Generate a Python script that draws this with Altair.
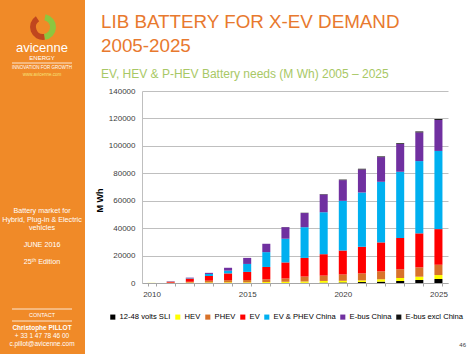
import altair as alt
import pandas as pd

years = list(range(2010, 2026))
series = ["12-48 volts SLI", "HEV", "PHEV", "EV", "EV & PHEV China", "E-bus China", "E-bus excl China"]
colors = ["#000000", "#FFFF00", "#D8722A", "#FF0000", "#00B0F0", "#7030A0", "#111111"]

sli = [0, 0, 0, 0, 0, 0, 0, 0, 100, 200, 400, 700, 1000, 1500, 2200, 2900]
hev = [100, 150, 300, 400, 500, 500, 700, 900, 1000, 1300, 1200, 1200, 1700, 2200, 2400, 2900]
phev = [0, 100, 600, 1300, 1600, 1700, 2000, 2400, 3600, 3900, 4600, 5100, 5800, 6300, 6800, 7500]
ev = [0, 700, 2300, 3400, 4900, 5900, 9000, 11700, 13600, 15600, 17500, 19400, 21100, 22800, 24800, 26000]
china = [0, 100, 300, 1500, 2000, 5800, 10800, 17300, 22400, 30600, 36200, 39600, 44200, 48400, 52700, 57000]
ebus_china = [0, 200, 400, 800, 2100, 4400, 6100, 8400, 10300, 12900, 15100, 16800, 18000, 20200, 20900, 22600]
ebus_excl = [0, 0, 0, 0, 0, 0, 0, 100, 200, 300, 400, 500, 500, 500, 700, 700]

values = [sli, hev, phev, ev, china, ebus_china, ebus_excl]
rows = []
for si, (name, vals) in enumerate(zip(series, values)):
    for y, v in zip(years, vals):
        rows.append({"year": y, "series": name, "value": v, "ord": si})
df = pd.DataFrame(rows)

OX, OY = 142, 91  # plot origin on the page
FONT = "Liberation Sans"

bars = alt.Chart(df).mark_bar().encode(
    x=alt.X("year:O", title=None,
            scale=alt.Scale(paddingInner=0.58, paddingOuter=0.29),
            axis=alt.Axis(labelExpr="datum.value % 5 == 0 ? datum.value : ''",
                          labelAngle=0, tickBand="extent", tickSize=3,
                          tickColor="#A6A6A6", domainColor="#A6A6A6",
                          labelFontSize=8, labelColor="#404040", labelFont=FONT,
                          labelPadding=4)),
    y=alt.Y("value:Q", stack="zero",
            scale=alt.Scale(domain=[0, 140000]),
            axis=alt.Axis(values=list(range(0, 140001, 20000)), format="d",
                          grid=True, gridColor="#BFBFBF", domainColor="#BFBFBF",
                          ticks=False, labelPadding=7, labelFontSize=8,
                          labelColor="#404040", labelFont=FONT,
                          title="M Wh", titleFontSize=9, titleFontWeight="bold",
                          titleColor="#000000", titleFont=FONT,
                          titleX=-38, titleY=109, titleAngle=270)),
    color=alt.Color("series:N", scale=alt.Scale(domain=series, range=colors),
                    legend=alt.Legend(title=None, orient="none", direction="horizontal",
                                      legendX=-33, legendY=222, symbolType="square",
                                      symbolSize=26, symbolStrokeWidth=0,
                                      labelFontSize=7.6, labelFont=FONT, labelColor="#000000",
                                      columnPadding=3, labelOffset=3, labelLimit=200)),
    order=alt.Order("ord:Q", sort="ascending"),
)

one = alt.Data(values=[{}])


def txt(s, x, y, size, color="#FFFFFF", weight="normal", align="center", font=FONT):
    return alt.Chart(one).mark_text(text=s, fontSize=size, color=color, fontWeight=weight,
                                    align=align, baseline="alphabetic", font=font).encode(
        x=alt.value(x - OX), y=alt.value(y - OY))


def hline(x1, x2, y, color="#FFFFFF", w=0.8):
    return alt.Chart(one).mark_rule(color=color, strokeWidth=w).encode(
        x=alt.value(x1 - OX), x2=alt.value(x2 - OX), y=alt.value(y - OY))


sidebar = alt.Chart(one).mark_rect(color="#F08A28").encode(
    x=alt.value(0 - OX), x2=alt.value(85 - OX), y=alt.value(0 - OY), y2=alt.value(354 - OY))

logo_g = alt.Chart(one).mark_arc(color="#8DC63F", radius=13, radius2=7, theta=0.2, theta2=3.0).encode(
    x=alt.value(43 - OX), y=alt.value(27 - OY))
logo_o = alt.Chart(one).mark_arc(color="#C0461E", radius=13, radius2=7, theta=3.0, theta2=5.7).encode(
    x=alt.value(43 - OX), y=alt.value(27 - OY))

layers = [
    sidebar, logo_g, logo_o,
    txt("avicenne", 42, 52, 13),
    txt("ENERGY", 42, 60, 6),
    hline(12, 72, 63),
    txt("INNOVATION FOR GROWTH", 42, 69, 4.5),
    txt("www.avicenne.com", 42, 76, 4.5, color="#F6E27A"),
    txt("Battery market for", 42, 213, 7.2),
    txt("Hybrid, Plug-in & Electric", 42, 222, 7.2),
    txt("vehicles", 42, 230, 7.2),
    txt("JUNE 2016", 42, 247, 7.2),
    txt("25ᵗʰ Edition", 42, 264, 7.2),
    hline(12, 72, 309),
    txt("CONTACT", 42, 317, 5.5),
    hline(12, 72, 321),
    txt("Christophe PILLOT", 42, 330, 6.5, weight="bold"),
    txt("+ 33 1 47 78 46 00", 42, 338, 6.5),
    txt("c.pillot@avicenne.com", 42, 346, 6.5),
    txt("LIB BATTERY FOR X-EV DEMAND", 101, 28, 18.8, color="#E8792E", align="left"),
    txt("2005-2025", 101, 52, 18.8, color="#E8792E", align="left"),
    txt("EV, HEV & P-HEV Battery needs (M Wh)  2005 – 2025", 101, 78, 12, color="#A8C866", align="left"),
    txt("46", 466, 347, 6, color="#404040", align="right"),
    bars,
]

chart = alt.layer(*layers).properties(
    width=306, height=192,
    autosize=alt.AutoSizeParams(type="none"),
    padding={"left": OX, "top": OY, "right": 474 - OX - 306, "bottom": 354 - OY - 192},
    background="#FFFFFF",
).configure_view(stroke=None)

chart.save("out.html", embed_options={"renderer": "svg", "actions": False})
